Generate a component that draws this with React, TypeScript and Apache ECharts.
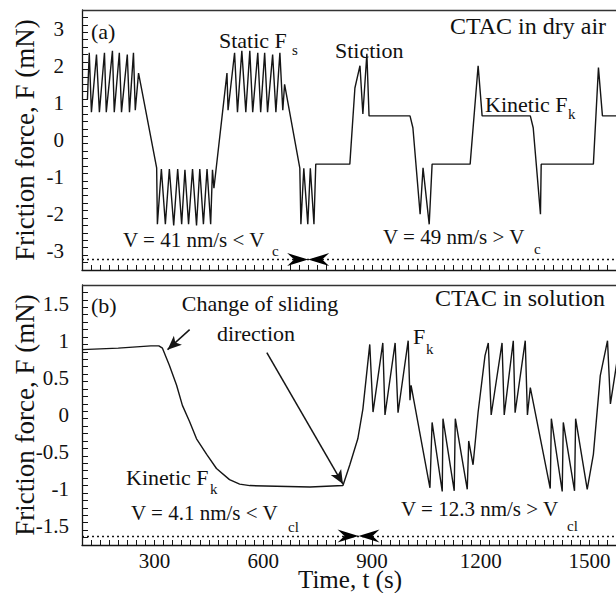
import React, { useEffect, useRef } from 'react';
import * as echarts from 'echarts';

const FONT = '"Liberation Serif", "Times New Roman", serif';

// ---- axis labels ----
const xLabels = [300, 600, 900, 1200, 1500];
const topYLabels = [-3, -2, -1, 0, 1, 2, 3];
const botYLabels = [-1.5, -1, -0.5, 0, 0.5, 1, 1.5];

// ---- (a) CTAC in dry air : [time s, force mN] ----
const topTrace: [number, number][] = [
  [115, 1.1], [120, 2.35], [126, 0.75], [140, 2.3], [148, 0.75], [162, 2.35], [167, 0.75],
  [184, 2.4], [189, 0.75], [203, 2.35], [209, 0.75], [225, 2.3], [231, 0.75], [242, 2.35],
  [247, 0.8], [256, 1.8], [262, 1.5], [306, -0.75],
  [308, -2.27], [319, -0.78], [330, -2.27], [341, -0.78], [353, -2.3], [364, -0.78],
  [375, -2.27], [384, -0.8], [394, -2.27], [405, -0.78], [416, -2.3], [425, -0.78],
  [435, -2.27], [445, -0.78], [455, -2.27], [460, -0.8], [464, -1.3], [500, 1.8],
  [503, 0.8], [521, 2.35], [529, 0.75], [541, 2.4], [552, 0.75], [563, 2.4], [571, 0.75],
  [585, 2.35], [593, 0.75], [604, 2.35], [612, 0.75], [626, 2.3], [635, 0.75], [646, 2.35],
  [654, 0.8], [659, 1.5], [701, -0.76],
  [704, -2.27], [712, -0.76], [723, -2.27], [730, -0.76], [740, -2.27], [745, -0.65],
  [839, -0.65], [853, 1.4], [867, 2.0], [875, 0.7], [886, 2.32], [892, 0.65],
  [1005, 0.65], [1013, 0.33], [1033, -2.0], [1041, -0.75], [1058, -2.27], [1066, -0.65],
  [1171, -0.65], [1193, 2.0], [1204, 0.65],
  [1337, 0.65], [1345, 0.33], [1365, -2.0], [1367, -0.65],
  [1511, -0.65], [1525, 1.95], [1536, 0.65], [1660, 0.65],
];

// ---- (b) CTAC in solution ----
const bottomTrace: [number, number][] = [
  [100, 0.88], [200, 0.9], [290, 0.93], [312, 0.93], [322, 0.9], [341, 0.67], [361, 0.4],
  [377, 0.13], [397, -0.09], [416, -0.32], [444, -0.53], [471, -0.72], [507, -0.87],
  [535, -0.93], [563, -0.95], [729, -0.97], [820, -0.95], [839, -0.67], [861, -0.32], [875, 0.08],
  [894, 0.95], [903, 0.04], [930, 0.97], [936, 0.0], [964, 0.97], [972, 0.03], [1000, 1.0],
  [1005, 0.2], [1008, 0.4], [1060, -0.98], [1066, -0.1], [1094, -1.03], [1096, -0.05],
  [1127, -1.02], [1130, -0.05], [1163, -1.0], [1167, -0.35], [1179, -0.67],
  [1193, 0.04], [1212, 0.8], [1221, 0.97], [1229, 0.0], [1259, 0.97], [1265, 0.0],
  [1290, 1.0], [1295, 0.03], [1323, 1.0], [1329, 0.0], [1337, 0.37],
  [1392, -0.99], [1395, -0.05], [1425, -1.03], [1428, -0.1], [1459, -1.02], [1462, -0.05],
  [1494, -1.0], [1511, -0.53], [1530, 0.53], [1550, 1.0], [1558, 0.15], [1585, 1.0],
  [1590, 0.05], [1617, 1.0], [1622, 0.05], [1650, 1.0],
];

// guide (velocity) lines and the time where their two arrowheads meet
const topGuideF = -3.22;
const botGuideF = -1.63;
const topMeetT = 724;
const botMeetT = 863;
// "change of sliding direction" arrows: [from, to]
const slidingArrows: [number, number][][] = [
  [[397, 1.15], [336, 0.88]],
  [[610, 0.84], [820, -0.93]],
];

// the plotted window runs past the right edge of the (cropped) figure
const X_MIN = 100;
const X_MAX = 1750;
const TOP_RANGE = [-3.5, 3.5];
const BOT_RANGE = [-1.75, 1.75];

function steps(a: number, b: number, s: number) {
  const out: number[] = [];
  for (let i = 0; a + i * s <= b + 1e-9; i++) out.push(Math.round((a + i * s) * 1000) / 1000);
  return out;
}

const INK = '#151515';

function xAxis(gridIndex: number, labels: boolean) {
  return {
    type: 'value', gridIndex, min: X_MIN, max: X_MAX, position: 'bottom',
    axisLine: { show: true, onZero: false, lineStyle: { color: INK, width: 1.3 } },
    axisTick: { show: true, inside: true, length: 5, customValues: steps(100, 1700, 25), lineStyle: { color: INK } },
    axisLabel: labels
      ? { show: true, customValues: xLabels, formatter: (v: number) => String(v), fontFamily: FONT, fontSize: 21, color: '#111', margin: 5 }
      : { show: false },
    splitLine: { show: false },
  };
}

function yAxis(gridIndex: number, range: number[], labels: number[], minorStep: number, margin: number) {
  return {
    type: 'value', gridIndex, min: range[0], max: range[1], position: 'left',
    axisLine: { show: true, onZero: false, lineStyle: { color: INK, width: 1.3 } },
    axisTick: { show: true, inside: true, length: 6, customValues: steps(range[0], range[1], minorStep), lineStyle: { color: INK } },
    axisLabel: { show: true, customValues: labels, formatter: (v: number) => String(v), fontFamily: FONT, fontSize: 21, color: '#111', margin },
    splitLine: { show: false },
  };
}

function txt(text: string, x: number, y: number, size = 22, align = 'left', rotation = 0) {
  return {
    type: 'text', x, y, rotation, silent: true,
    style: {
      text, fontFamily: FONT, fontSize: size, fill: '#111',
      align, verticalAlign: 'middle', textAlign: align, textVerticalAlign: 'middle',
    },
  };
}

const dotted = { color: INK, type: [2, 3], width: 1.3 };
const frame = { color: '#333', type: 'solid', width: 1.3 };

const texts = [
  txt('Friction force, F (mN)', 25, 140, 27, 'center', Math.PI / 2),
  txt('Friction force, F (mN)', 25, 415, 27, 'center', Math.PI / 2),
  txt('Time, t (s)', 350, 579, 25, 'center'),
  // panel (a)
  txt('(a)', 91, 31),
  txt('Static F', 219, 40),
  txt('s', 292, 50, 15),
  txt('Stiction', 335, 50),
  txt('CTAC in dry air', 450, 26, 24),
  txt('Kinetic F', 485, 104),
  txt('k', 568, 114, 15),
  txt('V = 41 nm/s < V', 123, 240, 21),
  txt('c', 272, 251, 15),
  txt('V = 49 nm/s > V', 383, 237, 21),
  txt('c', 534, 249, 15),
  // panel (b)
  txt('(b)', 91, 305),
  txt('Change of sliding', 260, 303, 22, 'center'),
  txt('direction', 256, 333, 22, 'center'),
  txt('CTAC in solution', 435, 298, 24),
  txt('F', 413, 336),
  txt('k', 426, 349, 15),
  txt('Kinetic F', 126, 477),
  txt('k', 210, 489, 15),
  txt('V = 4.1 nm/s < V', 131, 513, 21),
  txt('cl', 288, 527, 15),
  txt('V = 12.3 nm/s > V', 401, 509, 21),
  txt('cl', 567, 526, 15),
];

export default function App() {
  const ref = useRef<HTMLDivElement>(null);
  useEffect(() => {
    document.body.style.margin = '0';
    document.body.style.overflow = 'hidden';
    document.documentElement.style.overflow = 'hidden';
    const chart = echarts.init(ref.current!, null, { renderer: 'svg' });
    chart.setOption({
      animation: false,
      backgroundColor: '#fff',
      grid: [
        { left: 82, top: 10, right: 0, height: 260 },
        { left: 82, top: 285, right: 0, height: 260 },
      ],
      xAxis: [xAxis(0, false), xAxis(1, true)],
      yAxis: [
        yAxis(0, TOP_RANGE, topYLabels, 0.2, 18),
        yAxis(1, BOT_RANGE, botYLabels, 0.1, 13),
      ],
      series: [
        {
          type: 'line', xAxisIndex: 0, yAxisIndex: 0, data: topTrace, showSymbol: false, clip: false,
          lineStyle: { color: INK, width: 1.4 },
          markLine: {
            silent: true, animation: false, label: { show: false }, symbol: ['none', 'none'],
            data: [
              [{ coord: [X_MIN, topGuideF], lineStyle: dotted }, { coord: [1700, topGuideF] }],
              [{ coord: [X_MIN, TOP_RANGE[1]], lineStyle: frame }, { coord: [1700, TOP_RANGE[1]] }],
            ],
          },
        },
        {
          type: 'line', xAxisIndex: 1, yAxisIndex: 1, data: bottomTrace, showSymbol: false, clip: false,
          lineStyle: { color: INK, width: 1.4 },
          markLine: {
            silent: true, animation: false, label: { show: false },
            symbol: ['none', 'none'],
            data: [
              [{ coord: [X_MIN, botGuideF], lineStyle: dotted }, { coord: [1700, botGuideF] }],
              [{ coord: [X_MIN, BOT_RANGE[1]], lineStyle: frame }, { coord: [1700, BOT_RANGE[1]] }],
              ...slidingArrows.map((a) => [
                { coord: a[0], lineStyle: { color: INK, type: 'solid', width: 1.5 } },
                { coord: a[1], symbol: 'arrow', symbolSize: [9, 14] },
              ]),
            ],
            itemStyle: { color: INK },
          },
        },
      ],
    });
    // meeting arrowheads on the guide lines, placed through the axes' own scales
    const head = (idx: number, t: number, f: number, dir: number) => {
      const p = chart.convertToPixel({ xAxisIndex: idx, yAxisIndex: idx }, [t, f]) as number[];
      const [px, py] = p;
      const L = 21, H = 6.5, N = 14;
      return {
        type: 'polygon', silent: true, z: 10,
        shape: { points: [[px, py], [px - dir * L, py - H], [px - dir * N, py], [px - dir * L, py + H]] },
        style: { fill: '#000' },
      };
    };
    chart.setOption({
      graphic: [
        ...texts,
        head(0, topMeetT, topGuideF, 1),
        head(0, topMeetT, topGuideF, -1),
        head(1, botMeetT, botGuideF, 1),
        head(1, botMeetT, botGuideF, -1),
      ],
    });
    return () => chart.dispose();
  }, []);
  return <div ref={ref} style={{ width: 680, height: 593 }} />;
}
